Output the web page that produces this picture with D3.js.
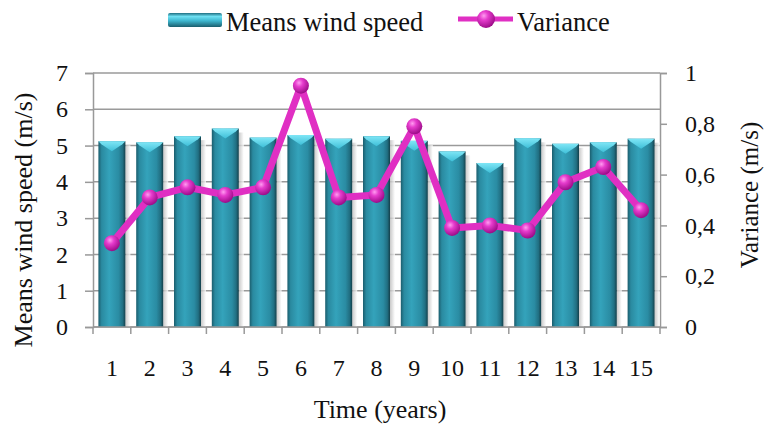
<!DOCTYPE html>
<html>
<head>
<meta charset="utf-8">
<script src="https://cdn.jsdelivr.net/npm/d3@7"></script>
<style>
  html, body { margin: 0; padding: 0; background: #fff; }
  svg { display: block; }
  svg text { font-family: "Liberation Serif", "Times New Roman", Times, "DejaVu Serif", serif !important; fill: #111; }
</style>
</head>
<body>
<svg id="chart" width="764" height="428"></svg>
<script>
const years = ["1","2","3","4","5","6","7","8","9","10","11","12","13","14","15"];
const meanWind = [5.12, 5.09, 5.26, 5.47, 5.22, 5.29, 5.19, 5.26, 5.13, 4.84, 4.52, 5.20, 5.05, 5.09, 5.19];
const variance = [0.33, 0.51, 0.55, 0.52, 0.55, 0.95, 0.51, 0.52, 0.79, 0.39, 0.40, 0.38, 0.57, 0.63, 0.46];
const leftTicks = [0, 1, 2, 3, 4, 5, 6, 7];
const rightTicks = [0, 0.2, 0.4, 0.6, 0.8, 1];
const rightTickLabels = ["0", "0,2", "0,4", "0,6", "0,8", "1"];
const seriesNames = ["Means wind speed", "Variance"];
const xTitle = "Time (years)";
const yLeftTitle = "Means wind speed (m/s)";
const yRightTitle = "Variance (m/s)";

const FONT = '"Liberation Serif", "Times New Roman", Times, "DejaVu Serif", serif';
const svg = d3.select("#chart").attr("font-family", FONT);
const L = 93, R = 660, T = 73, B = 327;

const x = d3.scaleBand().domain(years).range([L, R]).paddingInner(0.286).paddingOuter(0.143);
const yL = d3.scaleLinear().domain([0, 7]).range([B, T]);
const yR = d3.scaleLinear().domain([0, 1]).range([B, T]);

const defs = svg.append("defs");
const bg = defs.append("linearGradient").attr("id", "barGrad").attr("x1", 0).attr("x2", 1).attr("y1", 0).attr("y2", 0);
[[0, "#1b5d6d"], [0.12, "#2a8aa0"], [0.4, "#34a3bb"], [0.75, "#2a8ca3"], [0.9, "#216f82"], [1, "#143f4a"]]
  .forEach(([o, c]) => bg.append("stop").attr("offset", o).attr("stop-color", c));
const cg = defs.append("linearGradient").attr("id", "capGrad").attr("x1", 0).attr("x2", 0).attr("y1", 0).attr("y2", 1);
[[0, "#7fe6f6"], [1, "#3fbfd8"]].forEach(([o, c]) => cg.append("stop").attr("offset", o).attr("stop-color", c));
const lgg = defs.append("linearGradient").attr("id", "legGrad").attr("x1", 0).attr("x2", 0).attr("y1", 0).attr("y2", 1);
[[0, "#1f6f82"], [0.25, "#6fe0f2"], [0.55, "#3fb8d0"], [1, "#1a5e6e"]].forEach(([o, c]) => lgg.append("stop").attr("offset", o).attr("stop-color", c));
const sh = defs.append("linearGradient").attr("id", "shadowGrad").attr("x1", 0).attr("x2", 1);
[[0, "#bbbbbb"], [1, "#ffffff"]].forEach(([o, c]) => sh.append("stop").attr("offset", o).attr("stop-color", c));
const mg = defs.append("radialGradient").attr("id", "markGrad").attr("cx", "38%").attr("cy", "32%").attr("r", "70%");
[[0, "#ff9cf0"], [0.35, "#e63ccd"], [1, "#9a0a86"]].forEach(([o, c]) => mg.append("stop").attr("offset", o).attr("stop-color", c));

// gridlines
svg.append("g").selectAll("line").data(leftTicks).join("line")
  .attr("x1", L).attr("x2", R).attr("y1", d => yL(d)).attr("y2", d => yL(d))
  .attr("stroke", "#9a9a9a").attr("stroke-width", 1.5);

// left axis
const gl = svg.append("g").attr("transform", `translate(${L},0)`)
  .call(d3.axisLeft(yL).tickValues(leftTicks).tickSize(8).tickPadding(17).tickFormat(d3.format("d")));
gl.attr("font-family", FONT).attr("font-size", 24);
gl.select(".domain").attr("stroke", "#999").attr("stroke-width", 1.5);
gl.selectAll(".tick line").attr("stroke", "#999").attr("stroke-width", 1.5);
gl.selectAll(".tick text").attr("fill", "#111");

// right axis
const gr = svg.append("g").attr("transform", `translate(${R},0)`)
  .call(d3.axisRight(yR).tickValues(rightTicks).tickSize(7).tickPadding(18).tickFormat((d, i) => rightTickLabels[i]));
gr.attr("font-family", FONT).attr("font-size", 24);
gr.select(".domain").attr("stroke", "#999").attr("stroke-width", 1.5);
gr.selectAll(".tick line").attr("stroke", "#999").attr("stroke-width", 1.5);
gr.selectAll(".tick text").attr("fill", "#111");

// bars
const bars = svg.append("g");
years.forEach((yr, i) => {
  const bx = x(yr), bw = x.bandwidth(), top = yL(meanWind[i]);
  bars.append("rect").attr("x", bx + bw).attr("y", top + 4).attr("width", 5).attr("height", B - top - 4)
    .attr("fill", "url(#shadowGrad)").attr("opacity", 0.8);
  bars.append("rect").attr("x", bx).attr("y", top).attr("width", bw).attr("height", B - top)
    .attr("fill", "url(#barGrad)");
  bars.append("path")
    .attr("d", `M${bx},${top}L${bx + bw},${top}L${bx + bw - 3},${top + 3}L${bx + bw / 2},${top + 10}L${bx + 3},${top + 3}Z`)
    .attr("fill", "url(#capGrad)");
});

// x axis
const gx = svg.append("g").attr("transform", `translate(0,${B})`);
gx.append("line").attr("x1", L).attr("x2", R).attr("stroke", "#999").attr("stroke-width", 1.5);
const bounds = years.map(d => x(d) - x.step() * x.paddingInner() / 2).concat([R]);
bounds[0] = L;
gx.selectAll("line.tk").data(bounds).join("line").attr("class", "tk")
  .attr("x1", d => d).attr("x2", d => d).attr("y1", 0).attr("y2", 7)
  .attr("stroke", "#999").attr("stroke-width", 1.5);
gx.selectAll("text").data(years).join("text")
  .attr("x", d => x(d) + x.bandwidth() / 2).attr("y", 49)
  .attr("text-anchor", "middle").attr("font-size", 24).text(d => d);

// variance line
const line = d3.line().x((d, i) => x(years[i]) + x.bandwidth() / 2).y(d => yR(d));
svg.append("path").datum(variance).attr("d", line)
  .attr("fill", "none").attr("stroke", "#e02fc3").attr("stroke-width", 7).attr("stroke-linejoin", "round");
svg.append("g").selectAll("circle").data(variance).join("circle")
  .attr("cx", (d, i) => x(years[i]) + x.bandwidth() / 2).attr("cy", d => yR(d)).attr("r", 8)
  .attr("fill", "url(#markGrad)");

// titles
svg.append("text").attr("x", 380).attr("y", 418).attr("text-anchor", "middle").attr("font-size", 26).text(xTitle);
svg.append("text").attr("transform", `translate(32,${(T + B) / 2 + 20}) rotate(-90)`)
  .attr("text-anchor", "middle").attr("font-size", 26).text(yLeftTitle);
svg.append("text").attr("transform", `translate(758,${(T + B) / 2 - 5}) rotate(-90)`)
  .attr("text-anchor", "middle").attr("font-size", 25).text(yRightTitle);

// legend
const lg = svg.append("g");
lg.append("rect").attr("x", 168).attr("y", 13).attr("width", 54).attr("height", 14)
  .attr("fill", "url(#legGrad)").attr("rx", 2);
lg.append("text").attr("x", 226).attr("y", 31).attr("font-size", 26.5).text(seriesNames[0]);
lg.append("line").attr("x1", 458).attr("x2", 513).attr("y1", 19).attr("y2", 19)
  .attr("stroke", "#e02fc3").attr("stroke-width", 5);
lg.append("circle").attr("cx", 486).attr("cy", 19).attr("r", 9).attr("fill", "url(#markGrad)");
lg.append("text").attr("x", 517).attr("y", 31).attr("font-size", 26.5).text(seriesNames[1]);
</script>
</body>
</html>
